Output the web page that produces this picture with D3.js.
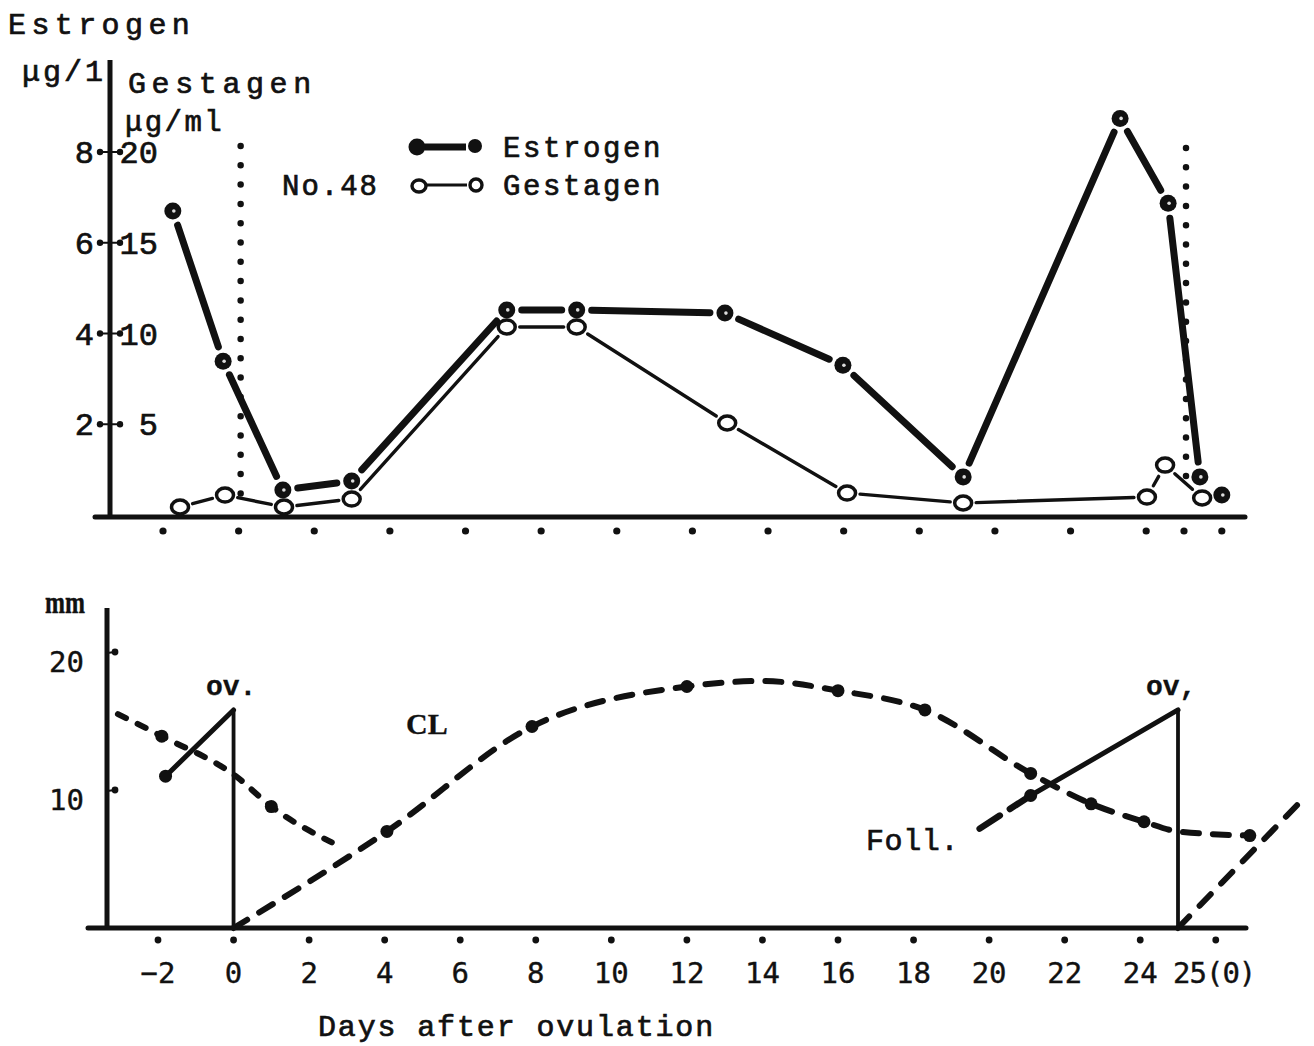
<!DOCTYPE html>
<html><head><meta charset="utf-8">
<script src="https://cdn.jsdelivr.net/npm/d3@7"></script>
<style>body{margin:0;background:#fff}svg{display:block}</style>
</head><body>
<script>
// ---------- DATA ----------
// Top panel: hormone levels
const estrogenDays   = [-1.74, -0.41, 1.17, 2.99, 7.09, 8.94, 12.86, 15.98, 19.16, 23.31, 24.58, 25.42, 26.0];
const estrogenValues = [6.7, 3.39, 0.55, 0.75, 4.52, 4.52, 4.45, 3.3, 0.84, 8.74, 6.87, 0.84, 0.44]; // µg/l
const gestagenDays   = [-1.55, -0.36, 1.2, 2.99, 7.09, 8.94, 12.92, 16.09, 19.16, 24.02, 24.5, 25.48];
const gestagenValues = [0.44, 1.1, 0.44, 0.88, 10.36, 10.36, 5.07, 1.21, 0.66, 0.99, 2.75, 0.94]; // µg/ml
const estrogenTicks = [2, 4, 6, 8];
const gestagenTicks = [5, 10, 15, 20];
const topTickDays = [-2, 0, 2, 4, 6, 8, 10, 12, 14, 16, 18, 20, 22, 24, 25, 26];
const ovulationDays = [0, 25];

// Bottom panel: follicle / corpus luteum diameters (mm)
const oldClDays   = [-3.06, -1.9, 0.06, 1.0, 2.6];
const oldClValues = [15.5, 13.9, 11.0, 8.8, 6.2];
const oldClDots   = [0, 1, 0, 1, 0];
const clDays   = [0, 4.06, 7.9, 12.0, 14.0, 16.0, 18.3, 21.1, 22.7, 24.1, 25.0, 26.9];
const clValues = [0, 7.0, 14.6, 17.5, 17.9, 17.2, 15.8, 11.2, 9.0, 7.7, 7.0, 6.7];
const clDots   = [0, 1, 1, 1, 0, 1, 1, 1, 1, 1, 0, 1];
const foll1Days = [-1.8, 0];
const foll1Values = [11.0, 15.8];
const foll2DashDays = [19.75, 21.1];
const foll2DashValues = [7.2, 9.6];
const foll2Days = [21.1, 25];
const foll2Values = [9.6, 15.8];
const newClDays = [25, 28.4];
const newClValues = [0, 9.6];
const mmTicks = [10, 20];
const bottomTickDays = [-2, 0, 2, 4, 6, 8, 10, 12, 14, 16, 18, 20, 22, 24, 26];
const bottomLabelDays = [-2, 0, 2, 4, 6, 8, 10, 12, 14, 16, 18, 20, 22, 24, 25];
const bottomLabels = ["\u22122", "0", "2", "4", "6", "8", "10", "12", "14", "16", "18", "20", "22", "24", "25(0)"];

// ---------- SETUP ----------
const W = 1314, H = 1046, INK = "#111";
const svg = d3.select("body").append("svg").attr("width", W).attr("height", H);
const MONO = "'Liberation Mono','DejaVu Sans Mono',monospace";
const SANSMONO = "'DejaVu Sans Mono','Liberation Mono',monospace";

const xTop = d3.scaleLinear().domain([-2, 25]).range([163, 1184]);
const yE = d3.scaleLinear().domain([0, 8]).range([515, 152]);
const yG = d3.scaleLinear().domain([0, 20]).range([515, 152]);
const xBot = d3.scaleLinear().domain([-2, 25]).range([158, 1178]);
const yMM = d3.scaleLinear().domain([0, 20]).range([928, 652]);

function text(x, y, s, opts = {}) {
  return svg.append("text").attr("x", x).attr("y", y).text(s)
    .attr("font-family", opts.family || MONO)
    .attr("font-size", opts.size || 28)
    .attr("font-weight", opts.weight || "normal")
    .attr("letter-spacing", opts.ls || 0)
    .attr("text-anchor", opts.anchor || "start")
    .attr("fill", INK)
    .attr("stroke", INK).attr("stroke-width", opts.sw == null ? 0.7 : opts.sw);
}
function gapSeg(g, p, q, gap, width) {
  const dx = q[0] - p[0], dy = q[1] - p[1], L = Math.hypot(dx, dy);
  if (L < 2 * gap + 2) return;
  const ux = dx / L, uy = dy / L;
  g.append("line")
    .attr("x1", p[0] + ux * gap).attr("y1", p[1] + uy * gap)
    .attr("x2", q[0] - ux * gap).attr("y2", q[1] - uy * gap)
    .attr("stroke", INK).attr("stroke-width", width).attr("stroke-linecap", "round");
}

// ---------- TOP PANEL ----------
const topG = svg.append("g");
topG.append("line").attr("x1", 110).attr("x2", 110).attr("y1", 60).attr("y2", 517)
  .attr("stroke", INK).attr("stroke-width", 5);
topG.append("line").attr("x1", 95).attr("x2", 1245).attr("y1", 517).attr("y2", 517)
  .attr("stroke", INK).attr("stroke-width", 5).attr("stroke-linecap", "round");
topG.selectAll(".tx").data(topTickDays).join("circle")
  .attr("cx", d => xTop(d)).attr("cy", 531).attr("r", 3.6).attr("fill", INK);
estrogenTicks.forEach((v, i) => {
  const y = yE(v);
  topG.append("line").attr("x1", 100).attr("x2", 120).attr("y1", y).attr("y2", y)
    .attr("stroke", INK).attr("stroke-width", 2);
  topG.append("circle").attr("cx", 100).attr("cy", y).attr("r", 3.2).attr("fill", INK);
  topG.append("circle").attr("cx", 120).attr("cy", y).attr("r", 3.2).attr("fill", INK);
  text(94, y + 11, String(v), { size: 32, anchor: "end" });
  text(158, y + 11, String(gestagenTicks[i]), { size: 32, anchor: "end" });
});
text(8, 34, "Estrogen", { size: 30, ls: 5.4 });
text(22, 81, "\u03bcg/1", { size: 30, ls: 3 });
text(128, 93, "Gestagen", { size: 30, ls: 5.6 });
text(125, 131, "\u03bcg/ml", { size: 29, ls: 2.4 });
text(282, 195, "No.48", { size: 29, ls: 2 });

topG.selectAll(".ovl").data(ovulationDays).join("line")
  .attr("x1", d => xTop(d) + 2).attr("x2", d => xTop(d) + 2)
  .attr("y1", (d, i) => i === 0 ? 146 : 148)
  .attr("y2", (d, i) => i === 0 ? 496 : 480)
  .attr("stroke", INK).attr("stroke-width", 6.5)
  .attr("stroke-linecap", "round").attr("stroke-dasharray", "0,19.3");

const gPts = gestagenDays.map((d, i) => [xTop(d), yG(gestagenValues[i])]);
for (let i = 0; i < gPts.length - 1; i++) gapSeg(topG, gPts[i], gPts[i + 1], 13, 3.4);
const ePts = estrogenDays.map((d, i) => [xTop(d), yE(estrogenValues[i])]);
for (let i = 0; i < ePts.length - 1; i++) gapSeg(topG, ePts[i], ePts[i + 1], 15, 7);
topG.selectAll(".gm").data(gPts).join("ellipse")
  .attr("cx", d => d[0]).attr("cy", d => d[1]).attr("rx", 8.5).attr("ry", 7)
  .attr("fill", "#fff").attr("stroke", INK).attr("stroke-width", 3.5);
topG.selectAll(".em").data(ePts).join("circle")
  .attr("cx", d => d[0]).attr("cy", d => d[1]).attr("r", 8.5).attr("fill", INK);
topG.selectAll(".emh").data(ePts).join("circle")
  .attr("cx", d => d[0] + 1).attr("cy", d => d[1]).attr("r", 1.8).attr("fill", "#ddd");

// legend
const lg = svg.append("g");
lg.append("line").attr("x1", 425).attr("x2", 466).attr("y1", 147).attr("y2", 147)
  .attr("stroke", INK).attr("stroke-width", 7);
lg.append("circle").attr("cx", 417).attr("cy", 147).attr("r", 8.5).attr("fill", INK);
lg.append("circle").attr("cx", 475).attr("cy", 146).attr("r", 7).attr("fill", INK);
lg.append("line").attr("x1", 427).attr("x2", 467).attr("y1", 185).attr("y2", 185)
  .attr("stroke", INK).attr("stroke-width", 3.2);
lg.append("ellipse").attr("cx", 419).attr("cy", 186).attr("rx", 7).attr("ry", 6)
  .attr("fill", "#fff").attr("stroke", INK).attr("stroke-width", 3.4);
lg.append("ellipse").attr("cx", 476).attr("cy", 185).attr("rx", 6).attr("ry", 6)
  .attr("fill", "#fff").attr("stroke", INK).attr("stroke-width", 3.4);
text(503, 157, "Estrogen", { size: 29, ls: 2.6 });
text(503, 195, "Gestagen", { size: 29, ls: 2.6 });

// ---------- BOTTOM PANEL ----------
const bot = svg.append("g");
bot.append("line").attr("x1", 107).attr("x2", 107).attr("y1", 608).attr("y2", 926)
  .attr("stroke", INK).attr("stroke-width", 5);
bot.append("line").attr("x1", 88).attr("x2", 1246).attr("y1", 928).attr("y2", 928)
  .attr("stroke", INK).attr("stroke-width", 5).attr("stroke-linecap", "round");
bot.selectAll(".bx").data(bottomTickDays).join("circle")
  .attr("cx", d => xBot(d)).attr("cy", 940).attr("r", 3.4).attr("fill", INK);
bottomLabelDays.forEach((d, i) => {
  const last = i === bottomLabelDays.length - 1;
  text(last ? xBot(d) - 5 : xBot(d), 983, bottomLabels[i],
    { family: SANSMONO, size: 29, anchor: last ? "start" : "middle", ls: last ? -1 : 0, sw: 0.4 });
});
mmTicks.forEach(v => {
  const y = yMM(v);
  bot.append("line").attr("x1", 107).attr("x2", 115).attr("y1", y + 1).attr("y2", y)
    .attr("stroke", INK).attr("stroke-width", 2);
  bot.append("circle").attr("cx", 115).attr("cy", y).attr("r", 3.4).attr("fill", INK);
  text(84, y + 20, String(v), { family: SANSMONO, size: 29, anchor: "end", sw: 0.4 });
});
text(85, 613, "mm", { family: "'Liberation Serif',serif", size: 24, weight: "bold", anchor: "end", sw: 0.3 })
  .attr("transform", "translate(85,613) scale(1.0,1.35) translate(-85,-613)");

const lineB = d3.line().x(d => xBot(d[0])).y(d => yMM(d[1]));
bot.append("path").datum(oldClDays.map((d, i) => [d, oldClValues[i]]))
  .attr("d", lineB.curve(d3.curveMonotoneX))
  .attr("fill", "none").attr("stroke", INK).attr("stroke-width", 6)
  .attr("stroke-linecap", "round").attr("stroke-dasharray", "9,13");
bot.append("path").datum(clDays.map((d, i) => [d, clValues[i]]))
  .attr("d", lineB.curve(d3.curveMonotoneX))
  .attr("fill", "none").attr("stroke", INK).attr("stroke-width", 6)
  .attr("stroke-linecap", "round").attr("stroke-dasharray", "16,14");
bot.append("path").datum(newClDays.map((d, i) => [d, newClValues[i]]))
  .attr("d", lineB.curve(d3.curveLinear))
  .attr("fill", "none").attr("stroke", INK).attr("stroke-width", 6)
  .attr("stroke-linecap", "round").attr("stroke-dasharray", "16,15");
bot.append("path").datum(foll1Days.map((d, i) => [d, foll1Values[i]]))
  .attr("d", lineB.curve(d3.curveLinear))
  .attr("fill", "none").attr("stroke", INK).attr("stroke-width", 5).attr("stroke-linecap", "round");
bot.append("path").datum(foll2DashDays.map((d, i) => [d, foll2DashValues[i]]))
  .attr("d", lineB.curve(d3.curveLinear))
  .attr("fill", "none").attr("stroke", INK).attr("stroke-width", 6.5)
  .attr("stroke-linecap", "round").attr("stroke-dasharray", "24,12");
bot.append("path").datum(foll2Days.map((d, i) => [d, foll2Values[i]]))
  .attr("d", lineB.curve(d3.curveLinear))
  .attr("fill", "none").attr("stroke", INK).attr("stroke-width", 5).attr("stroke-linecap", "round");
[[foll1Days[1], foll1Values[1]], [foll2Days[1], foll2Values[1]]].forEach(p => {
  bot.append("line").attr("x1", xBot(p[0])).attr("x2", xBot(p[0]))
    .attr("y1", yMM(p[1])).attr("y2", yMM(0))
    .attr("stroke", INK).attr("stroke-width", 3.8);
});
const dotPts = [];
oldClDays.forEach((d, i) => { if (oldClDots[i]) dotPts.push([d, oldClValues[i]]); });
clDays.forEach((d, i) => { if (clDots[i]) dotPts.push([d, clValues[i]]); });
dotPts.push([foll1Days[0], foll1Values[0]]);
dotPts.push([foll2Days[0], foll2Values[0]]);
bot.selectAll(".bd").data(dotPts).join("circle")
  .attr("cx", d => xBot(d[0])).attr("cy", d => yMM(d[1])).attr("r", 6.5).attr("fill", INK);

text(206, 695, "ov.", { size: 28, weight: "bold", sw: 0.3 });
text(1146, 695, "ov,", { size: 28, weight: "bold", sw: 0.3 });
text(406, 734, "CL", { family: "'Liberation Serif',serif", size: 30, weight: "bold", sw: 0.3 });
text(866, 850, "Foll.", { size: 30, ls: 0.6 });
text(318, 1036, "Days after ovulation", { size: 30, ls: 1.85 });
</script>
</body></html>
